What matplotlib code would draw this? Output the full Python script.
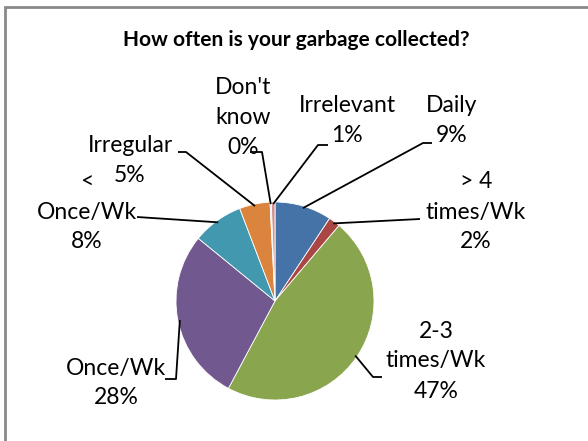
import matplotlib.pyplot as plt
from matplotlib.patches import Rectangle
import numpy as np

plt.rcParams['font.family'] = ['Lato', 'DejaVu Sans']

# survey answers, clockwise from 12 o'clock
categories = ["Daily", "> 4 times/Wk", "2-3 times/Wk", "Once/Wk",
              "< Once/Wk", "Irregular", "Don't know", "Irrelevant"]
shares = [9.3, 1.9, 46.6, 28.1, 8.3, 5.0, 0.2, 0.6]
label_texts = ["Daily\n9%", "> 4\ntimes/Wk\n2%", "2-3\ntimes/Wk\n47%", "Once/Wk\n28%",
               "<\nOnce/Wk\n8%", "Irregular\n5%", "Don't\nknow\n0%", "Irrelevant\n1%"]
colors = ["#4572A7", "#AA4643", "#89A54E", "#71588F",
          "#4198AF", "#DB843D", "#93A9CF", "#D19392"]

W, H = 588, 441
cx, cy, R = 275, H - 301, 99
line_step = 30

# label centre (pixels, from top) and the text end / elbow of each leader line
label_pos = [(452, 121), (476, 212), (436, 361), (116, 383),
             (87, 212), (130, 160), (243, 118), (347, 121)]
leader_start = [(432, 143), (420, 219), (382, 377), (165, 379),
                (137, 217), (178, 152), (250, 152), (328, 145)]
leader_elbow = [(423, 143), (420, 219), (373, 377), (176, 379),
                (137, 217), (186, 152), (262, 152), (318, 145)]

fig = plt.figure(figsize=(W / 100, H / 100), dpi=100)
ax = fig.add_axes([0, 0, 1, 1])

wedges, _ = ax.pie(shares, colors=colors, startangle=90, counterclock=False,
                   center=(cx, cy), radius=R, frame=True,
                   wedgeprops=dict(linewidth=0.6, edgecolor='white'))
ax.set_xlim(0, W)
ax.set_ylim(0, H)
ax.set_aspect('equal')
ax.axis('off')

for w, txt, (lx, ly), (sx, sy), (ex, ey) in zip(wedges, label_texts, label_pos,
                                                  leader_start, leader_elbow):
    ang = np.deg2rad((w.theta1 + w.theta2) / 2)
    px = cx + 0.98 * R * np.cos(ang)
    py = cy + 0.98 * R * np.sin(ang)
    ax.plot([sx, ex, px], [H - sy, H - ey, py], color='black', lw=1.3,
            solid_capstyle='butt')
    lines = txt.split("\n")
    top = ly - line_step * (len(lines) - 1) / 2
    for i, s in enumerate(lines):
        ax.text(lx, H - (top + i * line_step), s, ha='center', va='center',
                fontsize=16.5, color='black')

ax.text(296, H - 40, "How often is your garbage collected?", ha='center', va='center',
        fontsize=15, fontweight='bold')

# chart border (the picture is cropped on the right and bottom)
ax.add_patch(Rectangle((5, -20), W + 20, H - 7 + 20, fill=False,
                       edgecolor='#8a8a8a', lw=2))

fig.savefig("out.png", dpi=100)
